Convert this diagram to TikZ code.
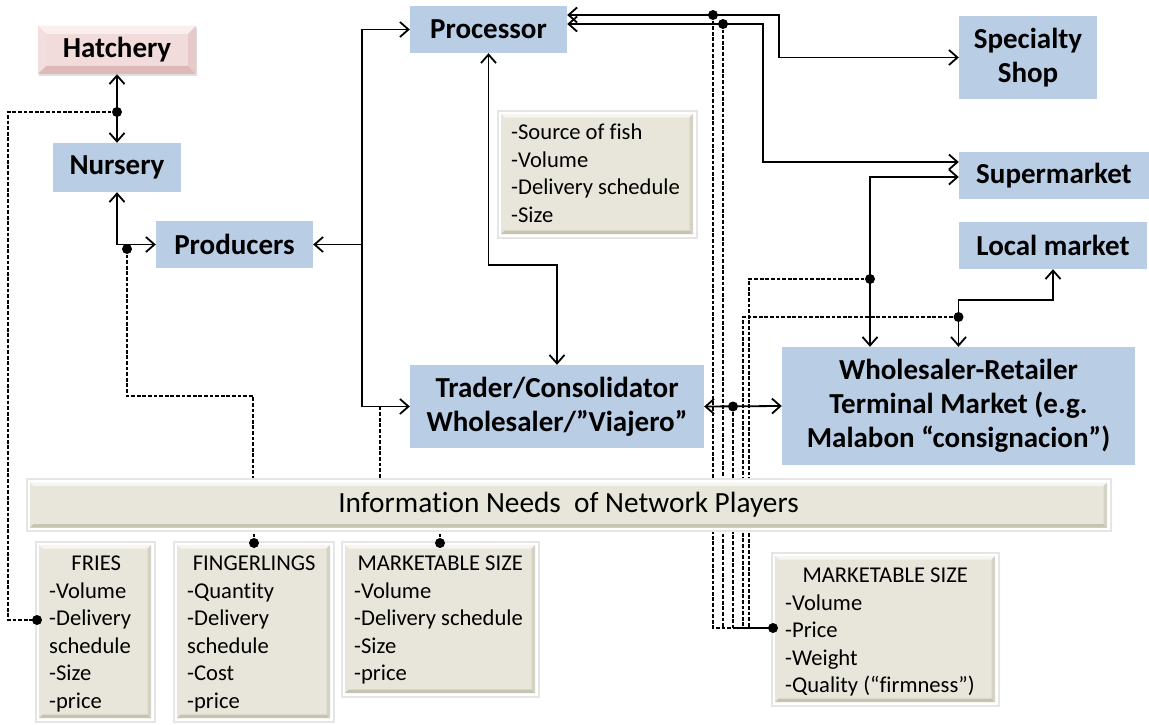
\documentclass[tikz,border=0pt]{standalone}
\usepackage{fontspec}
\setmainfont{Carlito}[Ligatures=NoCommon]
\usetikzlibrary{arrows.meta,shadows}
\definecolor{boxblue}{HTML}{B9CDE5}
\definecolor{beigeM}{HTML}{E8E6DA}
\definecolor{beigeL}{HTML}{F6F5EF}
\definecolor{beigeD}{HTML}{C6C3B0}
\definecolor{pinkM}{HTML}{F2DCDB}
\definecolor{pinkL}{HTML}{FAEFEF}
\definecolor{pinkD}{HTML}{DDB9B8}
\pgfdeclarelayer{bg}\pgfsetlayers{bg,main}
\tikzset{
  bevel/.style n args={3}{path picture={
    \path (path picture bounding box.north west) coordinate (bvA)
          (path picture bounding box.north east) coordinate (bvB)
          (path picture bounding box.south east) coordinate (bvC)
          (path picture bounding box.south west) coordinate (bvD);
    \fill[#2] (bvA) -- (bvB) -- ([xshift=-#1,yshift=-#1]bvB) -- ([xshift=#1,yshift=-#1]bvA) -- cycle;
    \fill[#2!70!#3] (bvA) -- (bvD) -- ([xshift=#1,yshift=#1]bvD) -- ([xshift=#1,yshift=-#1]bvA) -- cycle;
    \fill[#3] (bvD) -- (bvC) -- ([xshift=-#1,yshift=#1]bvC) -- ([xshift=#1,yshift=#1]bvD) -- cycle;
    \fill[#3!70!#2] (bvB) -- (bvC) -- ([xshift=-#1,yshift=#1]bvC) -- ([xshift=-#1,yshift=-#1]bvB) -- cycle;
  }},
  glow/.style={preaction={draw=black!10,line width=9pt},preaction={draw=white,line width=5pt}},
  bluebox/.style={fill=boxblue, font=\fontsize{29}{34}\selectfont\bfseries, align=center, inner sep=0pt},
  beigebox/.style={fill=beigeM, glow, bevel={3.5pt}{beigeL}{beigeD}, inner sep=0pt},
  listtxt/.style={font=\fontsize{22.6}{27.5}\selectfont, align=left, inner sep=0pt, anchor=north west},
  conn/.style={line width=1.8pt, {Straight Barb[length=8.5pt,width=15pt]}-{Straight Barb[length=8.5pt,width=15pt]}},
  conr/.style={line width=1.8pt, -{Straight Barb[length=8.5pt,width=15pt]}},
  plain/.style={line width=1.8pt},
  dsh/.style={line width=1.2pt, dash pattern=on 3.8pt off 1.8pt},
  dotm/.style={circle, fill=black, inner sep=0pt, minimum size=10pt},
}
\begin{document}
\begin{tikzpicture}[x=1pt,y=-1pt]
\useasboundingbox (0,0) rectangle (1149,725);
% blue boxes
\node[fill=pinkM, drop shadow={opacity=0.25,shadow xshift=1pt,shadow yshift=-2pt}, bevel={8pt}{pinkL}{pinkD}, minimum width=158pt, minimum height=48pt, font=\fontsize{29}{34}\selectfont\bfseries, inner sep=0pt] (hatch) at (117,50) {Hatchery};
\node[bluebox, minimum width=128pt, minimum height=49pt] (nurs) at (117,167.5) {Nursery};
\node[bluebox, minimum width=157pt, minimum height=47pt] (prod) at (234.5,244.5) {Producers};
\node[bluebox, minimum width=157pt, minimum height=47pt] (proc) at (488.5,29.5) {Processor};
\node[bluebox, minimum width=138pt, minimum height=83pt] (spec) at (1028,57.5) {Specialty\\Shop};
\node[bluebox, minimum width=190pt, minimum height=47pt] (super) at (1054,175.5) {Supermarket};
\node[bluebox, minimum width=188pt, minimum height=47pt] (local) at (1053,245.5) {Local market};
\node[bluebox, minimum width=294pt, minimum height=83pt] (trad) at (557,406.5) {Trader/Consolidator\\Wholesaler/”Viajero”};
\node[bluebox, minimum width=353pt, minimum height=118pt] (whol) at (958.5,406) {Wholesaler-Retailer\\Terminal Market (e.g.\\Malabon “consignacion”)};
% beige boxes
\node[beigebox, minimum width=192pt, minimum height=120pt] (src) at (597,174) {};
\node[listtxt] (srcT) at (511,124) {-Source of fish\\-Volume\\-Delivery schedule\\-Size};
\node[beigebox, minimum width=1077pt, minimum height=45pt, font=\fontsize{29.3}{34}\selectfont] (bar) at (568.5,505) {Information Needs\ \ of Network Players};
\node[beigebox, minimum width=112pt, minimum height=173pt] (fries) at (95,631.5) {};
\node[listtxt] (friesT) at (49,556) {\makebox[94pt]{FRIES}\\-Volume\\-Delivery\\schedule\\-Size\\-price};
\node[beigebox, minimum width=153pt, minimum height=173pt] (fing) at (253.5,631.5) {};
\node[listtxt] (fingT) at (187,556) {\makebox[134pt]{FINGERLINGS}\\-Quantity\\-Delivery\\schedule\\-Cost\\-price};
\node[beigebox, minimum width=190pt, minimum height=148pt] (mktL) at (440,619) {};
\node[listtxt] (mktLT) at (354,556) {\makebox[172pt]{MARKETABLE SIZE}\\-Volume\\-Delivery schedule\\-Size\\-price};
\node[beigebox, minimum width=220pt, minimum height=146pt] (mktR) at (885,629) {};
\node[listtxt] (mktRT) at (785,568) {\makebox[200pt]{MARKETABLE SIZE}\\-Volume\\-Price\\-Weight\\-Quality (“firmness”)};
% junction coordinates
\coordinate (j1) at (362,244.5);
\coordinate (j2) at (557,265);
\coordinate (k1) at (779,15);
\coordinate (k2) at (763,24);
\coordinate (k3) at (1053,300);
\coordinate (e1) at (8,112);
\coordinate (e2) at (253,396);
\coordinate (e3) at (380,406.5);
\coordinate (e4) at (749,279);
\coordinate (e5) at (743,317);
\node[dotm] (d1) at (117,112) {};
\node[dotm] (d2) at (127,249) {};
\node[dotm] (d3) at (713,15) {};
\node[dotm] (d4) at (723,24) {};
\node[dotm] (d5) at (870,279) {};
\node[dotm] (d6) at (958.5,317) {};
\node[dotm] (d7) at (733,406.5) {};
\node[dotm] (f1) at (37,620) {};
\node[dotm] (f2) at (254,543) {};
\node[dotm] (f3) at (440,543) {};
\node[dotm] (f4) at (773,628) {};
\begin{pgfonlayer}{bg}
% solid connectors
\draw[conn] (hatch.south) -- (nurs.north);
\draw[conn] (nurs.south) |- (prod.west);
\draw[conn] (proc.west) -| (j1) |- (trad.west);
\draw[conr] (j1) -- (prod.east);
\draw[conn] (proc.south) |- (j2) -- (trad.north);
\draw[conn] ([yshift=14.5pt]proc.east) -- (k1) |- (spec.west);
\draw[conn] ([yshift=5.5pt]proc.east) -- (k2) |- ([yshift=13.5pt]super.west);
\draw[conn] ([xshift=-88.5pt]whol.north) |- ([yshift=-1.5pt]super.west);
\draw[conn] (whol.north) |- (k3) -- (local.south);
\draw[conn] (trad.east) -- (whol.west);
% dashed connectors
\draw[dsh] (d1.center) -- (e1) |- (f1.center);
\draw[dsh] (d2.center) |- (e2) -- (e2 |- bar.north);
\draw[dsh] (f2.center) -- (f2 |- bar.south);
\draw[dsh] (e3) -- (e3 |- bar.north);
\draw[dsh] (f3.center) -- (f3 |- bar.south);
\draw[dsh] (d3.center) -- (d3 |- f4) -- (f4.center);
\draw[dsh] (d4.center) -- (d4 |- f4);
\draw[dsh] (d7.center) -- (d7 |- f4);
\draw[dsh] (d5.center) -- (e4) -- (e4 |- f4);
\draw[dsh] (d6.center) -- (e5) -- (e5 |- f4);
\draw[plain] (d7 |- f4) -- (f4.center);
\end{pgfonlayer}
\end{tikzpicture}
\end{document}
